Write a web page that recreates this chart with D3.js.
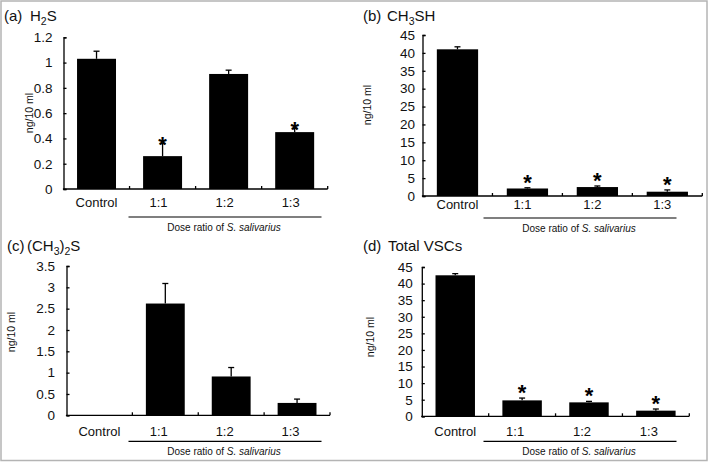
<!DOCTYPE html>
<html>
<head>
<meta charset="utf-8">
<script src="https://cdn.jsdelivr.net/npm/d3@7"></script>
<style>
  html, body { margin: 0; padding: 0; background: #fff; }
  svg { display: block; font-family: "Liberation Sans", Arial, sans-serif; }
</style>
</head>
<body>
<svg id="chart" width="709" height="464"></svg>
<script>
// ---------------- DATA ----------------
const categories = ["Control", "1:1", "1:2", "1:3"];

const h2sValues = [1.03, 0.26, 0.91, 0.45];
const h2sErrors = [0.06, 0.10, 0.03, 0.03];
const h2sSig    = [false, true, false, true];
const h2sTicks  = [0, 0.2, 0.4, 0.6, 0.8, 1, 1.2];

const ch3shValues = [41.0, 2.1, 2.5, 1.2];
const ch3shErrors = [0.7, 0.2, 0.3, 0.5];
const ch3shSig    = [false, true, true, true];
const ch3shTicks  = [0, 5, 10, 15, 20, 25, 30, 35, 40, 45];

const dmsValues = [0, 2.62, 0.91, 0.29];
const dmsErrors = [0, 0.47, 0.21, 0.09];
const dmsSig    = [false, false, false, false];
const dmsTicks  = [0, 0.5, 1, 1.5, 2, 2.5, 3, 3.5];

const totalValues = [42.5, 4.8, 4.2, 1.7];
const totalErrors = [0.5, 0.7, 0.3, 0.5];
const totalSig    = [false, true, true, true];
const totalTicks  = [0, 5, 10, 15, 20, 25, 30, 35, 40, 45];

const yAxisLabel = "ng/10 ml";
const groupLabel = "Dose ratio of ";
const groupLabelItalic = "S. salivarius";

// ---------------- LAYOUT ----------------
const svg = d3.select("#chart");
const FONT = "'Liberation Sans', Arial, sans-serif";

svg.append("rect")
  .attr("x", 1).attr("y", 1).attr("width", 706).attr("height", 459.5)
  .attr("fill", "none").attr("stroke", "#b4b4b4").attr("stroke-width", 1.5);

const panels = [
  { tag: "(a)", title: [["H", 0], ["2", 1], ["S", 0]], titleX: 4, tagX2: 30, titleY: 21,
    values: h2sValues, errors: h2sErrors, sig: h2sSig, ticks: h2sTicks,
    x0: 63.5, x1: 327.7, y0: 189, yTop: 37.3, pad: 11,
    ylx: 30, yly: 113, labelY: 207, labelShift: -4, starOff: 0.5,
    offX: 0, lineY: 217, doseY: 231 },
  { tag: "(b)", title: [["CH", 0], ["3", 1], ["SH", 0]], titleX: 363, tagX2: 387, titleY: 21,
    values: ch3shValues, errors: ch3shErrors, sig: ch3shSig, ticks: ch3shTicks,
    x0: 422.5, x1: 702.3, y0: 196, yTop: 35, pad: 7.5,
    ylx: 368, yly: 105, labelY: 209, labelShift: -5, starOff: 7,
    offX: 355, lineY: 218, doseY: 231.5 },
  { tag: "(c)", title: [["(CH", 0], ["3", 1], [")", 0], ["2", 1], ["S", 0]], titleX: 7, tagX2: 27, titleY: 251,
    values: dmsValues, errors: dmsErrors, sig: dmsSig, ticks: dmsTicks,
    x0: 66.5, x1: 330, y0: 415.3, yTop: 266, pad: 11.5,
    ylx: 12, yly: 332, labelY: 435.5, labelShift: -6.5, starOff: 7,
    offX: 0, lineY: 441.3, doseY: 454.5 },
  { tag: "(d)", title: [["Total VSCs", 0]], titleX: 363, tagX2: 388, titleY: 251.3,
    values: totalValues, errors: totalErrors, sig: totalSig, ticks: totalTicks,
    x0: 421.8, x1: 689.3, y0: 416.3, yTop: 267, pad: 9,
    ylx: 371.5, yly: 337, labelY: 436, labelShift: -7, starOff: 7.5,
    offX: 355, lineY: 441.3, doseY: 454.5 }
];

const fmt = d3.format("~g");

panels.forEach(p => {
  const g = svg.append("g");

  const x = d3.scaleBand().domain(categories).range([p.x0, p.x1])
    .paddingInner(0.41).paddingOuter(0.205);
  const y = d3.scaleLinear().domain([0, d3.max(p.ticks)]).range([p.y0, p.yTop]);
  const step = x.step();
  const bw = x.bandwidth();

  // Y axis
  const ya = g.append("g")
    .attr("transform", `translate(${p.x0},0)`)
    .call(d3.axisLeft(y).tickValues(p.ticks).tickSize(-3).tickPadding(p.pad).tickFormat(fmt));
  ya.selectAll("path, line").attr("stroke", "#000").attr("stroke-width", 1.3);
  ya.selectAll("text").attr("font-size", "13.5px").attr("font-family", FONT).attr("fill", "#111");

  // X axis line with inner ticks at band boundaries
  g.append("line")
    .attr("x1", p.x0 - 0.6).attr("x2", p.x1).attr("y1", p.y0).attr("y2", p.y0)
    .attr("stroke", "#000").attr("stroke-width", 1.3);
  g.selectAll("line.xtick").data(categories).enter().append("line")
    .attr("class", "xtick")
    .attr("x1", d => x(d) - x.paddingInner() * step / 2 + step)
    .attr("x2", d => x(d) - x.paddingInner() * step / 2 + step)
    .attr("y1", p.y0).attr("y2", p.y0 - 3)
    .attr("stroke", "#000").attr("stroke-width", 1.3);

  // Bars
  const rows = categories.map((c, i) => ({ c, v: p.values[i], e: p.errors[i], s: p.sig[i], i }));
  g.selectAll("rect.bar").data(rows.filter(r => r.v > 0)).enter().append("rect")
    .attr("class", "bar")
    .attr("x", d => x(d.c)).attr("width", bw)
    .attr("y", d => y(d.v)).attr("height", d => p.y0 - y(d.v))
    .attr("fill", "#000");

  // Error bars (upper only)
  const eb = rows.filter(r => r.e > 0);
  g.selectAll("line.err").data(eb).enter().append("line")
    .attr("class", "err")
    .attr("x1", d => x(d.c) + bw / 2).attr("x2", d => x(d.c) + bw / 2)
    .attr("y1", d => y(d.v)).attr("y2", d => y(d.v + d.e))
    .attr("stroke", "#000").attr("stroke-width", 1.3);
  g.selectAll("line.cap").data(eb).enter().append("line")
    .attr("class", "cap")
    .attr("x1", d => x(d.c) + bw / 2 - 3).attr("x2", d => x(d.c) + bw / 2 + 3)
    .attr("y1", d => y(d.v + d.e)).attr("y2", d => y(d.v + d.e))
    .attr("stroke", "#000").attr("stroke-width", 1.3);

  // Significance stars (glyph centre sits ~0.42em above the baseline)
  const fs = 22;
  g.selectAll("text.star").data(rows.filter(r => r.s)).enter().append("text")
    .attr("class", "star")
    .attr("x", d => x(d.c) + bw / 2)
    .attr("y", d => y(d.v + d.e) - p.starOff + 0.42 * fs)
    .attr("text-anchor", "middle").attr("font-size", fs + "px").attr("font-weight", "bold")
    .attr("font-family", FONT).attr("fill", "#000").text("*");

  // Category labels
  g.selectAll("text.cat").data(rows).enter().append("text")
    .attr("class", "cat")
    .attr("x", d => x(d.c) + bw / 2 + (d.i > 0 ? p.labelShift : 0))
    .attr("y", p.labelY)
    .attr("text-anchor", "middle").attr("font-size", "13px").attr("font-family", FONT)
    .attr("fill", "#111").text(d => d.c);

  // Group underline + label
  g.append("line")
    .attr("x1", p.offX + 128.5).attr("x2", p.offX + 321.5)
    .attr("y1", p.lineY).attr("y2", p.lineY)
    .attr("stroke", "#000").attr("stroke-width", 1.2);
  const dt = g.append("text")
    .attr("x", p.offX + 224).attr("y", p.doseY)
    .attr("text-anchor", "middle").attr("font-size", "10px").attr("font-family", FONT).attr("fill", "#111");
  dt.append("tspan").text(groupLabel);
  dt.append("tspan").attr("font-style", "italic").text(groupLabelItalic);

  // Y axis label
  g.append("text")
    .attr("transform", `translate(${p.ylx},${p.yly}) rotate(-90)`)
    .attr("text-anchor", "middle").attr("dominant-baseline", "middle")
    .attr("font-size", "10.5px").attr("font-family", FONT).attr("fill", "#111")
    .text(yAxisLabel);

  // Title
  g.append("text").attr("x", p.titleX).attr("y", p.titleY)
    .attr("font-size", "15px").attr("font-family", FONT).attr("fill", "#111").text(p.tag);
  const tt = g.append("text").attr("x", p.tagX2).attr("y", p.titleY)
    .attr("font-size", "15px").attr("font-family", FONT).attr("fill", "#111");
  let shifted = false;
  p.title.forEach(([s, sub]) => {
    const ts = tt.append("tspan").text(s);
    if (sub && !shifted) { ts.attr("dy", 4).attr("font-size", "10.5px"); shifted = true; }
    else if (sub && shifted) { ts.attr("font-size", "10.5px"); }
    else if (!sub && shifted) { ts.attr("dy", -4); shifted = false; }
  });
});
</script>
</body>
</html>
